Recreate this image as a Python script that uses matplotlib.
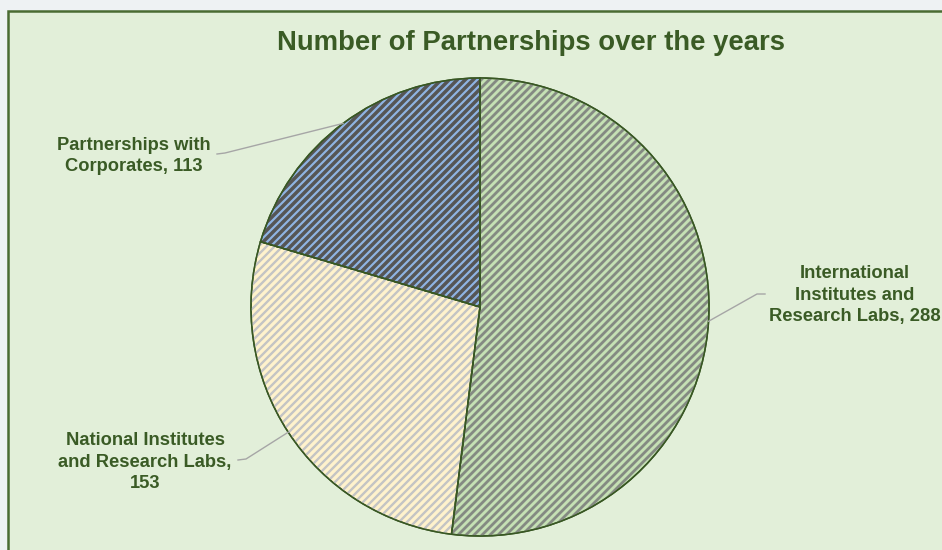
import numpy as np
import matplotlib.pyplot as plt
from matplotlib.patches import Rectangle
from matplotlib.collections import LineCollection

plt.rcParams['font.family'] = ['Liberation Sans', 'DejaVu Sans']

# Partnership counts
categories = ['International\nInstitutes and\nResearch Labs', 'National Institutes\nand Research Labs,\n',
              'Partnerships with\nCorporates']
values = [288, 153, 113]
label_fmt = ['{}, {}', '{}{}', '{}, {}']

fill_colors = ['#c5e0b4', '#fff2cc', '#8fb4e3']
stripe_colors = ['#848a82', '#c4c4c4', '#555555']
stripe_widths = [2.0, 1.7, 2.5]
text_green = '#3a5b25'
edge_green = '#385723'

fig = plt.figure(figsize=(9.42, 5.5), dpi=100)
fig.patch.set_facecolor('#eef2f3')
ax = fig.add_axes([0, 0, 1, 1])

cx, cy, r = 480, 550 - 307, 229

wedges, _ = ax.pie(values, colors=fill_colors, startangle=90, counterclock=False,
                   center=(cx, cy), radius=r, frame=True,
                   wedgeprops=dict(linewidth=1.1, edgecolor=edge_green))
ax.set_xlim(0, 942)
ax.set_ylim(0, 550)
ax.set_aspect('equal')
ax.axis('off')

# chart panel
ax.add_patch(Rectangle((8, -10), 960, 550 - 11 + 10, facecolor='#e2efd9',
                       edgecolor='#4a6b32', linewidth=1.8, zorder=0))

# diagonal stripes clipped to each slice
offsets = np.arange(-2 * r - 20, 2 * r + 20, 8)
segs = [[(cx - r - 10, cy - r - 10 + b), (cx + r + 10, cy + r + 10 + b)] for b in offsets]
for w, sc, lw in zip(wedges, stripe_colors, stripe_widths):
    lc = LineCollection(segs, colors=sc, linewidths=lw, zorder=w.get_zorder() + 0.1)
    ax.add_collection(lc)
    lc.set_clip_path(w)

# slice outlines on top of the stripes
ax.pie(values, startangle=90, counterclock=False, center=(cx, cy), radius=r, frame=True,
       wedgeprops=dict(linewidth=1.1, facecolor='none', edgecolor=edge_green, zorder=3))
ax.set_xlim(0, 942)
ax.set_ylim(0, 550)
ax.axis('off')

ax.text(531, 550 - 43, 'Number of Partnerships over the years', ha='center', va='center',
        fontsize=19.8, fontweight='bold', color=text_green)

# label positions and leader line elbows (pixels, y from bottom)
label_pos = [(855, 550 - 295), (145, 550 - 462), (134, 550 - 156)]
elbows = [((757, 550 - 294), (765, 550 - 294)),
          ((246, 550 - 459), (238, 550 - 460)),
          ((225, 550 - 153), (217, 550 - 154))]

for w, name, val, fmt, pos, (e1, e2) in zip(wedges, categories, values, label_fmt,
                                            label_pos, elbows):
    mid = np.deg2rad((w.theta1 + w.theta2) / 2)
    px, py = cx + r * np.cos(mid), cy + r * np.sin(mid)
    ax.plot([px, e1[0], e2[0]], [py, e1[1], e2[1]], color='#a6a6a6', linewidth=1.0, zorder=5)
    ax.text(pos[0], pos[1], fmt.format(name, val), ha='center', va='center',
            fontsize=13.2, fontweight='bold', color=text_green, linespacing=1.35)

fig.savefig('out.png', dpi=100, facecolor=fig.get_facecolor())
